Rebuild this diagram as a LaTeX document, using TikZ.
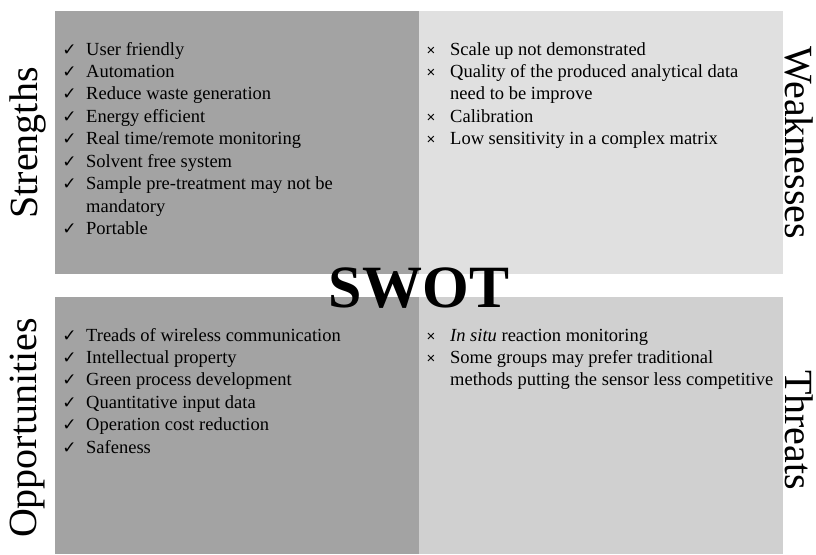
\documentclass[tikz,border=0pt]{standalone}
\usepackage{fontspec}
\setmainfont{Liberation Serif}
\newfontfamily\symfont{DejaVu Sans}
\newfontfamily\crossfont{Liberation Sans}
\definecolor{sgray}{HTML}{A3A3A3}
\definecolor{wgray}{HTML}{E0E0E0}
\definecolor{ogray}{HTML}{A3A3A3}
\definecolor{tgray}{HTML}{D0D0D0}
\begin{document}
\begin{tikzpicture}[x=1pt,y=-1pt,
  quad/.style={draw=none, inner sep=0, anchor=north west, minimum width=364pt},
  item/.style={anchor=base west, inner sep=0, font=\fontsize{18.5}{22.4}\selectfont},
  chk/.style={anchor=base, inner sep=0, font=\symfont\fontsize{17}{17}\selectfont},
  crs/.style={anchor=base, inner sep=0, font=\crossfont\fontsize{15}{15}\selectfont},
  side/.style={inner sep=0, font=\fontsize{40}{40}\selectfont}]
\useasboundingbox (0,0) rectangle (816,554);
% quadrants
\node[quad, fill=sgray, minimum height=263pt] (S) at (55,11) {};
\node[quad, fill=wgray, minimum height=263pt] (W) at (419,11) {};
\node[quad, fill=ogray, minimum height=257pt] (O) at (55,297) {};
\node[quad, fill=tgray, minimum height=257pt] (T) at (419,297) {};
% side labels
\node[side, rotate=90] (Slab) at (28,143) {Strengths};
\node[side, rotate=-90] (Wlab) at (799,143) {Weaknesses};
\node[side, rotate=90] (Olab) at (28,428) {Opportunities};
\node[side, rotate=-90] (Tlab) at (799,430) {Threats};
% title
\node[inner sep=0, anchor=base, font=\bfseries\fontsize{60}{60}\selectfont] (swot) at (419,307) {SWOT};
% strengths
\node[chk] (s1b) at (69.5,55) {✓};   \node[item] (s1) at (86,55) {User friendly};
\node[chk] (s2b) at (69.5,77.5) {✓}; \node[item] (s2) at (86,77.5) {Automation};
\node[chk] (s3b) at (69.5,99.9) {✓}; \node[item] (s3) at (86,99.9) {Reduce waste generation};
\node[chk] (s4b) at (69.5,122.4) {✓}; \node[item] (s4) at (86,122.4) {Energy efficient};
\node[chk] (s5b) at (69.5,144.8) {✓}; \node[item] (s5) at (86,144.8) {Real time/remote monitoring};
\node[chk] (s6b) at (69.5,167.3) {✓}; \node[item] (s6) at (86,167.3) {Solvent free system};
\node[chk] (s7b) at (69.5,189.7) {✓}; \node[item] (s7) at (86,189.7) {Sample pre-treatment may not be};
\node[item] (s7c) at (86,212.2) {mandatory};
\node[chk] (s8b) at (69.5,234.6) {✓}; \node[item] (s8) at (86,234.6) {Portable};
% weaknesses
\node[crs] (w1b) at (431,55) {×};   \node[item] (w1) at (450,55) {Scale up not demonstrated};
\node[crs] (w2b) at (431,77.5) {×}; \node[item] (w2) at (450,77.5) {Quality of the produced analytical data};
\node[item] (w2c) at (450,99.9) {need to be improve};
\node[crs] (w3b) at (431,122.4) {×}; \node[item] (w3) at (450,122.4) {Calibration};
\node[crs] (w4b) at (431,144.8) {×}; \node[item] (w4) at (450,144.8) {Low sensitivity in a complex matrix};
% opportunities
\node[chk] (o1b) at (69.5,341) {✓};   \node[item] (o1) at (86,341) {Treads of wireless communication};
\node[chk] (o2b) at (69.5,363.4) {✓}; \node[item] (o2) at (86,363.4) {Intellectual property};
\node[chk] (o3b) at (69.5,385.8) {✓}; \node[item] (o3) at (86,385.8) {Green process development};
\node[chk] (o4b) at (69.5,408.2) {✓}; \node[item] (o4) at (86,408.2) {Quantitative input data};
\node[chk] (o5b) at (69.5,430.6) {✓}; \node[item] (o5) at (86,430.6) {Operation cost reduction};
\node[chk] (o6b) at (69.5,453) {✓};   \node[item] (o6) at (86,453) {Safeness};
% threats
\node[crs] (t1b) at (431,341) {×};   \node[item] (t1) at (450,341) {\textit{In situ} reaction monitoring};
\node[crs] (t2b) at (431,363.4) {×}; \node[item] (t2) at (450,363.4) {Some groups may prefer traditional};
\node[item] (t2c) at (450,385.8) {methods putting the sensor less competitive};
\end{tikzpicture}
\end{document}
